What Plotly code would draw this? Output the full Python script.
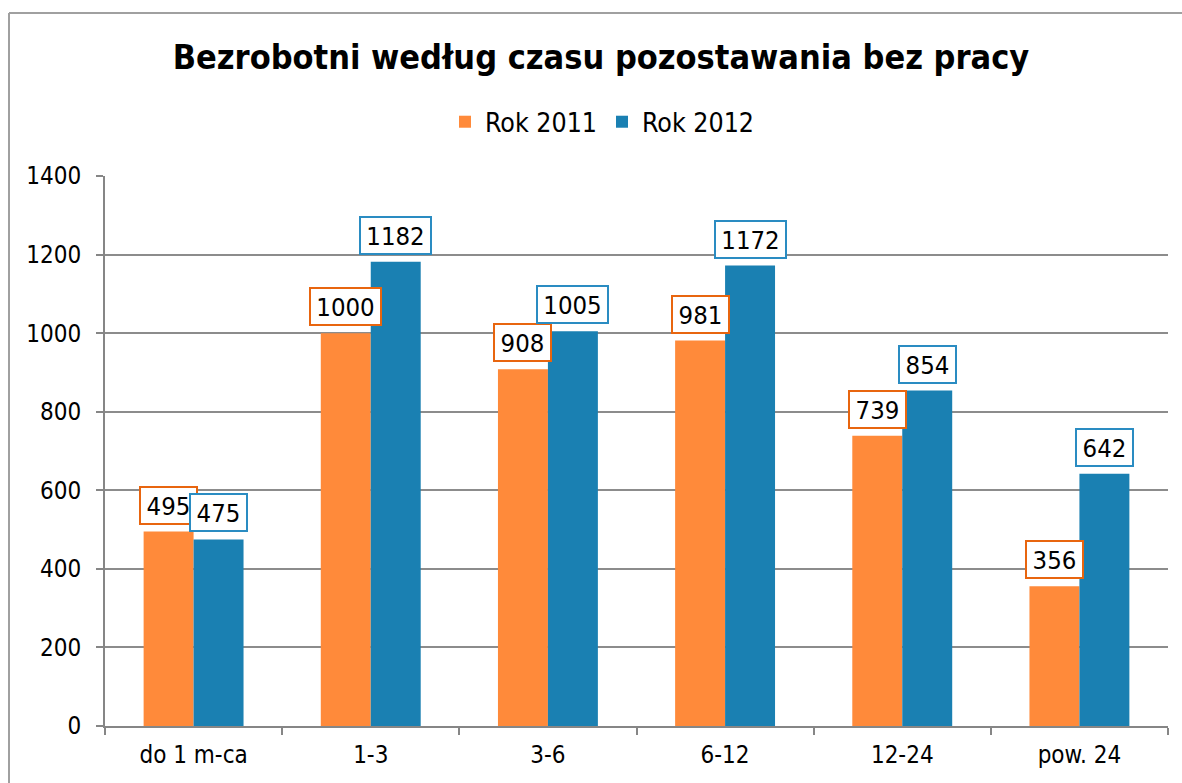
import plotly.graph_objects as go

categories = ["do 1 m-ca", "1-3", "3-6", "6-12", "12-24", "pow. 24"]
rok_2011 = [495, 1000, 908, 981, 739, 356]
rok_2012 = [475, 1182, 1005, 1172, 854, 642]
y_ticks = [0, 200, 400, 600, 800, 1000, 1200, 1400]

orange = "#FF8A3A"
blue = "#1A80B2"
orange_border = "#E8650F"
blue_border = "#2A8CC2"
FONT = "DejaVu Sans Condensed"
LABEL_SIZE = 25.5

fig = go.Figure()
fig.add_trace(go.Bar(name="Rok 2011", x=categories, y=rok_2011, marker=dict(color=orange, line=dict(width=0))))
fig.add_trace(go.Bar(name="Rok 2012", x=categories, y=rok_2012, marker=dict(color=blue, line=dict(width=0))))

annotations = []
for series, shift, border in ((rok_2011, -25, orange_border), (rok_2012, 25, blue_border)):
    for c, v in zip(categories, series):
        txt = str(v)
        annotations.append(dict(x=c, y=v, xref="x", yref="y", text=txt, showarrow=False,
                                xshift=shift, yshift=7, yanchor="bottom",
                                width=len(txt) * 14 + 11, height=33,
                                font=dict(family=FONT, size=LABEL_SIZE, color="black"),
                                bordercolor=border, borderwidth=2, borderpad=1, bgcolor="white"))

fig.update_layout(
    width=1182, height=783,
    margin=dict(l=105, r=14, t=176, b=57),
    paper_bgcolor="white", plot_bgcolor="white",
    barmode="group", bargap=0.436, bargroupgap=0,
    title=dict(text="<b>Bezrobotni według czasu pozostawania bez pracy</b>",
               x=601 / 1182, xanchor="center", y=1 - 57 / 783, yanchor="middle",
               font=dict(family=FONT, size=34, color="black")),
    legend=dict(orientation="h", x=602 / 1182, xref="container", xanchor="center",
                y=1 - 122 / 783, yref="container", yanchor="middle",
                font=dict(family=FONT, size=26.5, color="black"),
                itemwidth=30, tracegroupgap=0),
    annotations=annotations,
    xaxis=dict(type="category", showline=True, linecolor="#868686", linewidth=2,
               ticks="outside", tickson="boundaries", ticklen=7, tickcolor="#868686", tickwidth=2,
               ticklabelstandoff=6,
               tickfont=dict(family=FONT, size=24, color="black"), showgrid=False),
    yaxis=dict(range=[0, 1400], tickvals=y_ticks, showline=True, linecolor="#868686", linewidth=2,
               ticks="outside", ticklen=7, tickcolor="#868686", tickwidth=2,
               ticklabelstandoff=10,
               gridcolor="#8C8C8C", gridwidth=1.5, zeroline=False,
               tickfont=dict(family=FONT, size=24, color="black")),
    shapes=[
        dict(type="line", xref="paper", yref="paper", x0=(9 - 105) / 1063, x1=1.2,
             y0=(726 - 13) / 550, y1=(726 - 13) / 550, line=dict(color="#A0A0A0", width=2)),
        dict(type="line", xref="paper", yref="paper", x0=(9 - 105) / 1063, x1=(9 - 105) / 1063,
             y0=-0.3, y1=(726 - 13) / 550, line=dict(color="#A0A0A0", width=2)),
    ],
)

fig.write_html("out.html", config={"displayModeBar": False},
               post_script="document.body.style.margin='0';")
